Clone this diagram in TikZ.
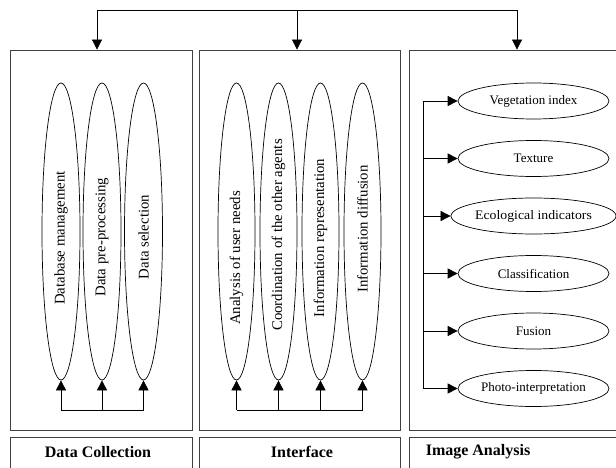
\documentclass[tikz,border=0pt]{standalone}
\usepackage{fontspec}
\setmainfont{Liberation Serif}
\usetikzlibrary{shapes.geometric,arrows.meta}
\begin{document}
\begin{tikzpicture}[x=1pt,y=-1pt,
  panel/.style={draw=black!75,line width=0.8pt,minimum width=#1,minimum height=380,inner sep=0pt},
  labbox/.style={draw=black!75,line width=0.8pt,minimum width=#1,minimum height=40,inner sep=0pt},
  vell/.style={draw,ellipse,line width=0.7pt,minimum width=38,minimum height=297,inner sep=0pt},
  vtxt/.style={rotate=90,inner sep=0pt,font=\fontsize{14.8}{16}\selectfont},
  hell/.style={draw,ellipse,line width=0.7pt,minimum width=151,minimum height=36,inner sep=0pt,
     font=\fontsize{13}{15}\selectfont},
  lab/.style={font=\fontsize{16}{18}\selectfont\bfseries},
  con/.style={line width=0.7pt},
  arr/.style={con,-{Triangle[length=10pt,width=10pt]}}
]
\useasboundingbox (0,0) rectangle (616,468);
\fill[white] (0,0) rectangle (616,468);

% panels
\node[panel=182] (p1) at (101,240) {};
\node[panel=201] (p2) at (299.5,240) {};
\node[panel=211] (p3) at (514.5,240) {};
\node[labbox=182] (l1) at (101,457) {};
\node[labbox=201] (l2) at (299.5,457) {};
\node[labbox=211] (l3) at (514.5,457) {};
\node[lab] (t1) at (98,452) {Data Collection};
\node[lab] (t2) at (302,452) {Interface};
\node[lab] (t3) at (478,452) {Image Analysis};

% top distribution
\coordinate (a1) at (97,10);
\coordinate (a2) at (297,10);
\coordinate (a3) at (517,10);
\draw[con] (a1) -- (a3);
\draw[arr] (a1) -- (a1 |- p1.north);
\draw[arr] (a2) -- (a2 |- p2.north);
\draw[arr] (a3) -- (a3 |- p3.north);

% Data collection ellipses
\node[vell] (d1) at (61,231.5) {};
\node[vell] (d2) at (102,231.5) {};
\node[vell] (d3) at (143.5,231.5) {};
\node[vtxt] (d1t) at (61,238) {Database management};
\node[vtxt] (d2t) at (102,237) {Data pre-processing};
\node[vtxt] (d3t) at (143.5,237) {Data selection};
\coordinate (db1) at (61,410);
\coordinate (db2) at (102,410);
\coordinate (db3) at (143.5,410);
\draw[con] (db1) -- (db3);
\draw[arr] (db1) -- (d1.south);
\draw[arr] (db2) -- (d2.south);
\draw[arr] (db3) -- (d3.south);

% Interface ellipses
\node[vell,minimum width=37] (i1) at (236.5,231.5) {};
\node[vell,minimum width=37] (i2) at (278.5,231.5) {};
\node[vell,minimum width=37] (i3) at (320.5,231.5) {};
\node[vell,minimum width=37] (i4) at (362.5,231.5) {};
\node[vtxt] (i1t) at (236.5,258) {Analysis of user needs};
\node[vtxt] (i2t) at (278.5,235) {Coordination of the other agents};
\node[vtxt] (i3t) at (320.5,238) {Information representation};
\node[vtxt] (i4t) at (362.5,229) {Information diffusion};
\coordinate (ib1) at (236.5,410);
\coordinate (ib2) at (278.5,410);
\coordinate (ib3) at (320.5,410);
\coordinate (ib4) at (362.5,410);
\draw[con] (ib1) -- (ib4);
\draw[arr] (ib1) -- (i1.south);
\draw[arr] (ib2) -- (i2.south);
\draw[arr] (ib3) -- (i3.south);
\draw[arr] (ib4) -- (i4.south);

% Image analysis ellipses
\node[hell] (e1) at (533.5,101) {Vegetation index};
\node[hell] (e2) at (533.5,158.5) {Texture};
\node[hell] (e3) at (533.5,216) {\scalebox{1.06}[1]{Ecological indicators}};
\node[hell] (e4) at (533.5,273.5) {Classification};
\node[hell] (e5) at (533.5,331) {Fusion};
\node[hell] (e6) at (533.5,388.5) {Photo-interpretation};
\coordinate (v1) at (423,101);
\coordinate (v6) at (423,388.5);
\draw[con] (v1) -- (v6);
\foreach \e in {e1,e2,e3,e4,e5,e6}
  \draw[arr] (v1 |- \e.west) -- (\e.west);
\end{tikzpicture}
\end{document}
